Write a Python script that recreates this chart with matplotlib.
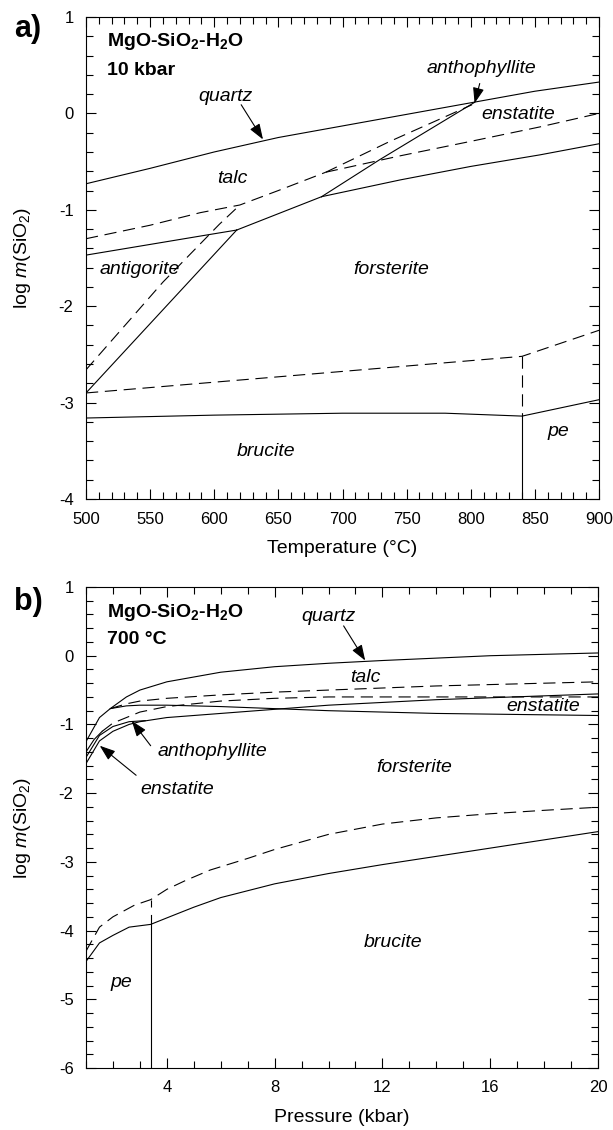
import matplotlib
matplotlib.use("Agg")
import matplotlib.pyplot as plt

plt.rcParams['font.family'] = ['Liberation Sans', 'DejaVu Sans']
plt.rcParams['axes.unicode_minus'] = False
plt.rcParams['mathtext.fontset'] = 'custom'
plt.rcParams['mathtext.rm'] = 'Liberation Sans'
plt.rcParams['mathtext.it'] = 'Liberation Sans:italic'
plt.rcParams['mathtext.bf'] = 'Liberation Sans:bold'

# ---------------- Panel a data (T in degC, log m(SiO2)) ----------------
a_quartz_T = [500, 550, 600, 650, 700, 750, 800, 850, 900]
a_quartz_v = [-0.73, -0.57, -0.40, -0.25, -0.13, -0.01, 0.11, 0.23, 0.325]
a_dash_upper_T = [500, 550, 589, 620, 650, 687]
a_dash_upper_v = [-1.30, -1.16, -1.03, -0.95, -0.80, -0.61]
a_dash_en_T = [687, 745, 800, 854, 900]
a_dash_en_v = [-0.61, -0.44, -0.29, -0.14, 0.0]
a_dash_anth_T = [687, 737, 801]
a_dash_anth_v = [-0.61, -0.29, 0.09]
a_dash_steep_T = [500, 560, 604, 620]
a_dash_steep_v = [-2.66, -1.75, -1.15, -0.95]
a_sol_antig_T = [500, 597, 617.5]
a_sol_antig_v = [-1.47, -1.255, -1.21]
a_sol_steep_T = [500, 617.5]
a_sol_steep_v = [-2.90, -1.21]
a_sol_tafo_T = [617.5, 683.7]
a_sol_tafo_v = [-1.21, -0.864]
a_sol_anfo_T = [683.7, 729, 803]
a_sol_anfo_v = [-0.864, -0.48, 0.115]
a_sol_enfo_T = [683.7, 745, 800, 854, 900]
a_sol_enfo_v = [-0.864, -0.69, -0.55, -0.43, -0.315]
a_dash_low_T = [500, 840, 900]
a_dash_low_v = [-2.90, -2.52, -2.25]
a_dash_vert_T = [840, 840]
a_dash_vert_v = [-2.52, -3.14]
a_sol_bru_T = [500, 600, 700, 780, 840, 900]
a_sol_bru_v = [-3.16, -3.13, -3.11, -3.11, -3.14, -2.97]
a_sol_vert_T = [840, 840]
a_sol_vert_v = [-3.14, -4.0]

a_labels = ['quartz', 'talc', 'enstatite', 'anthophyllite', 'antigorite',
            'forsterite', 'brucite', 'pe']
a_label_T = [609, 614, 837, 808.5, 542, 738, 640, 868]
a_label_v = [0.18, -0.68, -0.01, 0.47, -1.62, -1.62, -3.51, -3.30]

# ---------------- Panel b data (P in kbar, log m(SiO2)) ----------------
b_quartz_P = [1.0, 1.5, 1.9, 2.5, 3.0, 4.0, 6.0, 8.0, 10.0, 12.0, 16.0, 20.0]
b_quartz_v = [-1.25, -0.90, -0.77, -0.60, -0.50, -0.38, -0.24, -0.16, -0.11, -0.07, 0.0, 0.04]
b_dash1_P = [1.9, 2.5, 3.0, 4.0, 6.0, 8.0, 10.0, 14.0, 20.0]
b_dash1_v = [-0.77, -0.70, -0.66, -0.62, -0.57, -0.53, -0.50, -0.44, -0.38]
b_dash2_P = [1.6, 2.0, 2.5, 3.0, 4.0, 6.0, 8.0, 10.0, 14.0, 20.0]
b_dash2_v = [-1.10, -0.98, -0.90, -0.82, -0.74, -0.66, -0.62, -0.60, -0.60, -0.60]
b_sol_mid_P = [1.9, 2.5, 3.0, 4.0, 6.0, 8.0, 10.0, 14.0, 20.0]
b_sol_mid_v = [-0.77, -0.73, -0.72, -0.72, -0.74, -0.77, -0.80, -0.84, -0.87]
b_sol_low_P = [1.0, 1.5, 2.0, 2.6, 3.0, 4.0, 6.0, 8.0, 10.0, 14.0, 20.0]
b_sol_low_v = [-1.57, -1.24, -1.10, -1.00, -0.96, -0.90, -0.84, -0.78, -0.72, -0.64, -0.556]
b_sol_a_P = [1.0, 1.3, 1.6]
b_sol_a_v = [-1.40, -1.22, -1.10]
b_sol_b_P = [1.0, 1.5, 2.0, 2.6, 3.2]
b_sol_b_v = [-1.48, -1.16, -1.03, -0.96, -0.945]
b_dash_low_P = [1.0, 1.5, 2.0, 2.8, 3.4, 4.0, 4.7, 5.6, 7.0, 8.0, 10.0, 12.0, 14.0, 16.0, 18.0, 20.0]
b_dash_low_v = [-4.30, -3.95, -3.80, -3.63, -3.55, -3.40, -3.27, -3.12, -2.95, -2.82, -2.60, -2.45, -2.36, -2.30, -2.25, -2.205]
b_sol_bru_P = [1.0, 1.5, 2.0, 2.6, 3.4, 4.1, 5.0, 6.0, 8.0, 10.0, 12.0, 14.0, 16.0, 18.0, 20.0]
b_sol_bru_v = [-4.45, -4.18, -4.07, -3.95, -3.91, -3.80, -3.66, -3.52, -3.32, -3.17, -3.04, -2.92, -2.80, -2.68, -2.56]
b_sol_vert_P = [3.4, 3.4]
b_sol_vert_v = [-3.77, -6.0]
b_dash_vert_P = [3.4, 3.4]
b_dash_vert_v = [-3.55, -3.66]

b_labels = ['quartz', 'talc', 'enstatite', 'anthophyllite', 'enstatite',
            'forsterite', 'brucite', 'pe']
b_label_P = [9.98, 11.36, 17.98, 5.7, 4.4, 13.2, 12.4, 2.3]
b_label_v = [0.57, -0.31, -0.74, -1.40, -1.95, -1.62, -4.18, -4.75]

a_xticks = [500, 550, 600, 650, 700, 750, 800, 850, 900]
a_yticks = [1, 0, -1, -2, -3, -4]
b_xticks = [4, 8, 12, 16, 20]
b_yticks = [1, 0, -1, -2, -3, -4, -5, -6]

# ---------------- figure ----------------
W, H = 613, 1130
fig = plt.figure(figsize=(W / 100, H / 100), dpi=100)
ax_a = fig.add_axes([86 / W, 1 - 499 / H, 513 / W, 482 / H])
ax_b = fig.add_axes([86 / W, 1 - 1068 / H, 512 / W, 481 / H])

LW = 0.8
DASH = (11, 6)
solid = dict(color='black', lw=LW, solid_joinstyle='miter')
dashed = dict(color='black', lw=LW, dashes=DASH)

# panel a lines
for T, v in [(a_quartz_T, a_quartz_v), (a_sol_antig_T, a_sol_antig_v),
             (a_sol_steep_T, a_sol_steep_v), (a_sol_tafo_T, a_sol_tafo_v),
             (a_sol_anfo_T, a_sol_anfo_v), (a_sol_enfo_T, a_sol_enfo_v),
             (a_sol_bru_T, a_sol_bru_v), (a_sol_vert_T, a_sol_vert_v)]:
    ax_a.plot(T, v, **solid)
for T, v in [(a_dash_upper_T, a_dash_upper_v), (a_dash_en_T, a_dash_en_v),
             (a_dash_anth_T, a_dash_anth_v), (a_dash_steep_T, a_dash_steep_v),
             (a_dash_low_T, a_dash_low_v), (a_dash_vert_T, a_dash_vert_v)]:
    ax_a.plot(T, v, **dashed)

# panel b lines
for P, v in [(b_quartz_P, b_quartz_v), (b_sol_mid_P, b_sol_mid_v),
             (b_sol_low_P, b_sol_low_v), (b_sol_a_P, b_sol_a_v),
             (b_sol_b_P, b_sol_b_v), (b_sol_bru_P, b_sol_bru_v),
             (b_sol_vert_P, b_sol_vert_v)]:
    ax_b.plot(P, v, **solid)
for P, v in [(b_dash1_P, b_dash1_v), (b_dash2_P, b_dash2_v),
             (b_dash_low_P, b_dash_low_v), (b_dash_vert_P, b_dash_vert_v)]:
    ax_b.plot(P, v, **dashed)

FS_LAB = 14
for ax, labs, xs, ys in [(ax_a, a_labels, a_label_T, a_label_v),
                         (ax_b, b_labels, b_label_P, b_label_v)]:
    for s, x, y in zip(labs, xs, ys):
        ax.text(x, y, s, style='italic', fontsize=FS_LAB, ha='center', va='center')

arrow = dict(arrowstyle='-|>,head_length=0.5,head_width=0.18', color='black',
             lw=LW, shrinkA=0, shrinkB=0, mutation_scale=19)
ax_a.annotate('', xy=(638, -0.27), xytext=(621, 0.09), arrowprops=arrow)
ax_a.annotate('', xy=(803, 0.105), xytext=(807, 0.31), arrowprops=arrow)
ax_b.annotate('', xy=(11.36, -0.07), xytext=(10.56, 0.434), arrowprops=arrow)
ax_b.annotate('', xy=(2.70, -0.95), xytext=(3.40, -1.31), arrowprops=arrow)
ax_b.annotate('', xy=(1.51, -1.31), xytext=(2.86, -1.74), arrowprops=arrow)

title = r'MgO-SiO$_\mathbf{2}$-H$_\mathbf{2}$O'
ax_a.text(516, 0.75, title, fontsize=14, fontweight='bold', ha='left', va='center')
ax_a.text(516, 0.45, '10 kbar', fontsize=14, fontweight='bold', ha='left', va='center')
ax_b.text(1.77, 0.63, title, fontsize=14, fontweight='bold', ha='left', va='center')
ax_b.text(1.77, 0.24, '700 °C', fontsize=14, fontweight='bold', ha='left', va='center')

ax_a.set_xlim(500, 900)
ax_a.set_ylim(-4, 1)
ax_a.set_xticks(a_xticks)
ax_a.set_xticks(range(500, 901, 10), minor=True)
ax_a.set_yticks(a_yticks)
ax_a.set_yticks([i / 5 for i in range(-20, 6)], minor=True)

ax_b.set_xlim(1, 20)
ax_b.set_ylim(-6, 1)
ax_b.set_xticks(b_xticks)
ax_b.set_xticks(range(1, 21), minor=True)
ax_b.set_yticks(b_yticks)
ax_b.set_yticks([i / 5 for i in range(-30, 6)], minor=True)

ylab = r'log $\mathit{m}$(SiO$_2$)'
for ax, xl in [(ax_a, 'Temperature (°C)'), (ax_b, 'Pressure (kbar)')]:
    ax.tick_params(which='both', direction='in', top=True, right=True,
                   width=0.8, labelsize=12, pad=9)
    ax.tick_params(which='major', length=7)
    ax.tick_params(which='minor', length=5)
    for sp in ax.spines.values():
        sp.set_linewidth(0.8)
    ax.set_xlabel(xl, fontsize=14)
    ax.set_ylabel(ylab, fontsize=14)
    ax.xaxis.set_label_coords(0.5, -0.085)
    ax.yaxis.set_label_coords(-0.103, 0.5)

fig.text(14 / W, 1 - 29 / H, 'a)', fontsize=22, fontweight='bold', ha='left', va='center')
fig.text(14 / W, 1 - 602 / H, 'b)', fontsize=22, fontweight='bold', ha='left', va='center')

fig.savefig('out.png', dpi=100)
